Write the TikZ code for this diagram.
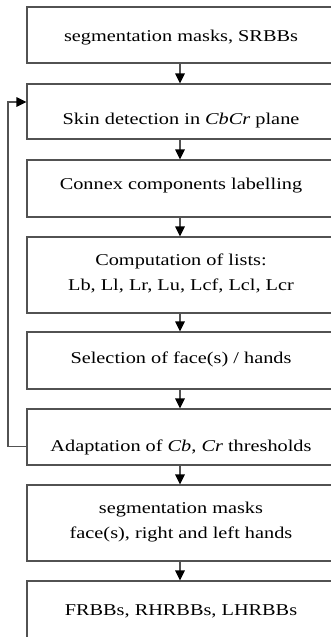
\documentclass[tikz,border=0pt]{standalone}
\usepackage{fontspec}
\setmainfont{Liberation Serif}[FakeStretch=1.23]
\usetikzlibrary{arrows.meta}
\tikzset{
  stage/.style={draw=black!68, line width=1.1pt, minimum width=306pt, inner sep=0pt},
  stagetext/.style={font=\fontsize{16.5}{25}\selectfont, align=center, inner sep=0pt, anchor=base},
  flow/.style={draw=black!68, line width=1.1pt, -{Triangle[length=10pt,width=9.5pt,color=black]}}
}
\begin{document}
\begin{tikzpicture}[x=1pt,y=-1pt]
\useasboundingbox (0,0) rectangle (331,637);
\clip (0,0) rectangle (331,637);
% processing stages (x from 27 to 333)
\node[stage, minimum height=56pt] (b1) at (180,35) {};
\node[stage, minimum height=55pt] (b2) at (180,111.5) {};
\node[stage, minimum height=57pt] (b3) at (180,188.5) {};
\node[stage, minimum height=76pt] (b4) at (180,275) {};
\node[stage, minimum height=57pt] (b5) at (180,360.5) {};
\node[stage, minimum height=56pt] (b6) at (180,437) {};
\node[stage, minimum height=76pt] (b7) at (180,523) {};
\node[stage, minimum height=76pt] (b8) at (180,619) {};
% stage texts (base anchor = baseline of the last line)
\node[stagetext] (t1) at (181,41.7) {segmentation masks, SRBBs};
\node[stagetext] (t2) at (181,124) {Skin detection in \textit{CbCr} plane};
\node[stagetext] (t3) at (181,189.3) {Connex components labelling};
\node[stagetext] (t4) at (181,290) {Computation of lists:\\Lb, Ll, Lr, Lu, Lcf, Lcl, Lcr};
\node[stagetext] (t5) at (181,363.3) {Selection of face(s) / hands};
\node[stagetext] (t6) at (181,451) {Adaptation of \textit{Cb}, \textit{Cr} thresholds};
\node[stagetext] (t7) at (181,538.3) {segmentation masks\\face(s), right and left hands};
\node[stagetext] (t8) at (181,615) {FRBBs, RHRBBs, LHRBBs};
% forward flow
\draw[flow] (b1) -- (b2);
\draw[flow] (b2) -- (b3);
\draw[flow] (b3) -- (b4);
\draw[flow] (b4) -- (b5);
\draw[flow] (b5) -- (b6);
\draw[flow] (b6) -- (b7);
\draw[flow] (b7) -- (b8);
% threshold feedback loop
\coordinate (fbOut) at (b6.west |- 0,446.5);
\coordinate (fbIn) at (b2.west |- 0,102);
\draw[flow] (fbOut) -- (8,446.5) -- (8,102) -- (fbIn);
\end{tikzpicture}
\end{document}
